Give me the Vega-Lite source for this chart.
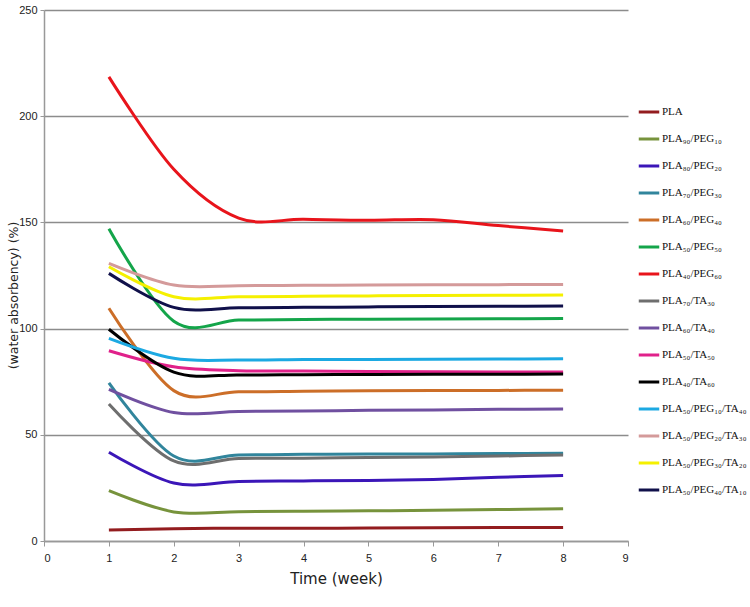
{
  "$schema": "https://vega.github.io/schema/vega-lite/v6.json",
  "width": 584,
  "height": 531,
  "autosize": {"type": "none"},
  "padding": {"left": 44, "top": 10, "right": 122, "bottom": 66},
  "background": "white",
  "config": {"view": {"stroke": null}},
  "data": {
    "values": [
      {"s": "PLA", "w": 1, "v": 5.2}, {"s": "PLA", "w": 2, "v": 5.8}, {"s": "PLA", "w": 3, "v": 6.0}, {"s": "PLA", "w": 4, "v": 6.0}, {"s": "PLA", "w": 5, "v": 6.1}, {"s": "PLA", "w": 6, "v": 6.2}, {"s": "PLA", "w": 7, "v": 6.3}, {"s": "PLA", "w": 8, "v": 6.4},
      {"s": "PLA₉₀/PEG₁₀", "w": 1, "v": 23.7}, {"s": "PLA₉₀/PEG₁₀", "w": 2, "v": 13.7}, {"s": "PLA₉₀/PEG₁₀", "w": 3, "v": 13.8}, {"s": "PLA₉₀/PEG₁₀", "w": 4, "v": 14.0}, {"s": "PLA₉₀/PEG₁₀", "w": 5, "v": 14.2}, {"s": "PLA₉₀/PEG₁₀", "w": 6, "v": 14.5}, {"s": "PLA₉₀/PEG₁₀", "w": 7, "v": 14.8}, {"s": "PLA₉₀/PEG₁₀", "w": 8, "v": 15.2},
      {"s": "PLA₈₀/PEG₂₀", "w": 1, "v": 41.8}, {"s": "PLA₈₀/PEG₂₀", "w": 2, "v": 27.3}, {"s": "PLA₈₀/PEG₂₀", "w": 3, "v": 28.0}, {"s": "PLA₈₀/PEG₂₀", "w": 4, "v": 28.3}, {"s": "PLA₈₀/PEG₂₀", "w": 5, "v": 28.5}, {"s": "PLA₈₀/PEG₂₀", "w": 6, "v": 29.0}, {"s": "PLA₈₀/PEG₂₀", "w": 7, "v": 30.0}, {"s": "PLA₈₀/PEG₂₀", "w": 8, "v": 30.8},
      {"s": "PLA₇₀/PEG₃₀", "w": 1, "v": 74.5}, {"s": "PLA₇₀/PEG₃₀", "w": 2, "v": 40.0}, {"s": "PLA₇₀/PEG₃₀", "w": 3, "v": 40.5}, {"s": "PLA₇₀/PEG₃₀", "w": 4, "v": 40.8}, {"s": "PLA₇₀/PEG₃₀", "w": 5, "v": 41.0}, {"s": "PLA₇₀/PEG₃₀", "w": 6, "v": 41.0}, {"s": "PLA₇₀/PEG₃₀", "w": 7, "v": 41.2}, {"s": "PLA₇₀/PEG₃₀", "w": 8, "v": 41.3},
      {"s": "PLA₆₀/PEG₄₀", "w": 1, "v": 109.6}, {"s": "PLA₆₀/PEG₄₀", "w": 2, "v": 70.8}, {"s": "PLA₆₀/PEG₄₀", "w": 3, "v": 70.3}, {"s": "PLA₆₀/PEG₄₀", "w": 4, "v": 70.5}, {"s": "PLA₆₀/PEG₄₀", "w": 5, "v": 70.7}, {"s": "PLA₆₀/PEG₄₀", "w": 6, "v": 70.8}, {"s": "PLA₆₀/PEG₄₀", "w": 7, "v": 70.9}, {"s": "PLA₆₀/PEG₄₀", "w": 8, "v": 71.0},
      {"s": "PLA₅₀/PEG₅₀", "w": 1, "v": 147.0}, {"s": "PLA₅₀/PEG₅₀", "w": 2, "v": 103.5}, {"s": "PLA₅₀/PEG₅₀", "w": 3, "v": 104.0}, {"s": "PLA₅₀/PEG₅₀", "w": 4, "v": 104.3}, {"s": "PLA₅₀/PEG₅₀", "w": 5, "v": 104.4}, {"s": "PLA₅₀/PEG₅₀", "w": 6, "v": 104.5}, {"s": "PLA₅₀/PEG₅₀", "w": 7, "v": 104.6}, {"s": "PLA₅₀/PEG₅₀", "w": 8, "v": 104.7},
      {"s": "PLA₄₀/PEG₆₀", "w": 1, "v": 218.5}, {"s": "PLA₄₀/PEG₆₀", "w": 2, "v": 175.0}, {"s": "PLA₄₀/PEG₆₀", "w": 3, "v": 152.0}, {"s": "PLA₄₀/PEG₆₀", "w": 4, "v": 151.5}, {"s": "PLA₄₀/PEG₆₀", "w": 5, "v": 151.0}, {"s": "PLA₄₀/PEG₆₀", "w": 6, "v": 151.3}, {"s": "PLA₄₀/PEG₆₀", "w": 7, "v": 148.5}, {"s": "PLA₄₀/PEG₆₀", "w": 8, "v": 146.0},
      {"s": "PLA₇₀/TA₃₀", "w": 1, "v": 64.5}, {"s": "PLA₇₀/TA₃₀", "w": 2, "v": 37.7}, {"s": "PLA₇₀/TA₃₀", "w": 3, "v": 38.8}, {"s": "PLA₇₀/TA₃₀", "w": 4, "v": 39.0}, {"s": "PLA₇₀/TA₃₀", "w": 5, "v": 39.3}, {"s": "PLA₇₀/TA₃₀", "w": 6, "v": 39.6}, {"s": "PLA₇₀/TA₃₀", "w": 7, "v": 40.0}, {"s": "PLA₇₀/TA₃₀", "w": 8, "v": 40.5},
      {"s": "PLA₆₀/TA₄₀", "w": 1, "v": 71.4}, {"s": "PLA₆₀/TA₄₀", "w": 2, "v": 60.5}, {"s": "PLA₆₀/TA₄₀", "w": 3, "v": 61.0}, {"s": "PLA₆₀/TA₄₀", "w": 4, "v": 61.2}, {"s": "PLA₆₀/TA₄₀", "w": 5, "v": 61.5}, {"s": "PLA₆₀/TA₄₀", "w": 6, "v": 61.7}, {"s": "PLA₆₀/TA₄₀", "w": 7, "v": 62.0}, {"s": "PLA₆₀/TA₄₀", "w": 8, "v": 62.1},
      {"s": "PLA₅₀/TA₅₀", "w": 1, "v": 89.6}, {"s": "PLA₅₀/TA₅₀", "w": 2, "v": 82.0}, {"s": "PLA₅₀/TA₅₀", "w": 3, "v": 80.2}, {"s": "PLA₅₀/TA₅₀", "w": 4, "v": 80.0}, {"s": "PLA₅₀/TA₅₀", "w": 5, "v": 79.8}, {"s": "PLA₅₀/TA₅₀", "w": 6, "v": 79.7}, {"s": "PLA₅₀/TA₅₀", "w": 7, "v": 79.6}, {"s": "PLA₅₀/TA₅₀", "w": 8, "v": 79.6},
      {"s": "PLA₄₀/TA₆₀", "w": 1, "v": 99.7}, {"s": "PLA₄₀/TA₆₀", "w": 2, "v": 79.5}, {"s": "PLA₄₀/TA₆₀", "w": 3, "v": 78.2}, {"s": "PLA₄₀/TA₆₀", "w": 4, "v": 78.3}, {"s": "PLA₄₀/TA₆₀", "w": 5, "v": 78.4}, {"s": "PLA₄₀/TA₆₀", "w": 6, "v": 78.5}, {"s": "PLA₄₀/TA₆₀", "w": 7, "v": 78.5}, {"s": "PLA₄₀/TA₆₀", "w": 8, "v": 78.6},
      {"s": "PLA₅₀/PEG₁₀/TA₄₀", "w": 1, "v": 95.4}, {"s": "PLA₅₀/PEG₁₀/TA₄₀", "w": 2, "v": 86.0}, {"s": "PLA₅₀/PEG₁₀/TA₄₀", "w": 3, "v": 85.2}, {"s": "PLA₅₀/PEG₁₀/TA₄₀", "w": 4, "v": 85.4}, {"s": "PLA₅₀/PEG₁₀/TA₄₀", "w": 5, "v": 85.5}, {"s": "PLA₅₀/PEG₁₀/TA₄₀", "w": 6, "v": 85.6}, {"s": "PLA₅₀/PEG₁₀/TA₄₀", "w": 7, "v": 85.7}, {"s": "PLA₅₀/PEG₁₀/TA₄₀", "w": 8, "v": 85.8},
      {"s": "PLA₅₀/PEG₂₀/TA₃₀", "w": 1, "v": 130.7}, {"s": "PLA₅₀/PEG₂₀/TA₃₀", "w": 2, "v": 120.5}, {"s": "PLA₅₀/PEG₂₀/TA₃₀", "w": 3, "v": 120.2}, {"s": "PLA₅₀/PEG₂₀/TA₃₀", "w": 4, "v": 120.4}, {"s": "PLA₅₀/PEG₂₀/TA₃₀", "w": 5, "v": 120.5}, {"s": "PLA₅₀/PEG₂₀/TA₃₀", "w": 6, "v": 120.6}, {"s": "PLA₅₀/PEG₂₀/TA₃₀", "w": 7, "v": 120.7}, {"s": "PLA₅₀/PEG₂₀/TA₃₀", "w": 8, "v": 120.8},
      {"s": "PLA₅₀/PEG₃₀/TA₂₀", "w": 1, "v": 129.1}, {"s": "PLA₅₀/PEG₃₀/TA₂₀", "w": 2, "v": 115.0}, {"s": "PLA₅₀/PEG₃₀/TA₂₀", "w": 3, "v": 115.0}, {"s": "PLA₅₀/PEG₃₀/TA₂₀", "w": 4, "v": 115.2}, {"s": "PLA₅₀/PEG₃₀/TA₂₀", "w": 5, "v": 115.4}, {"s": "PLA₅₀/PEG₃₀/TA₂₀", "w": 6, "v": 115.6}, {"s": "PLA₅₀/PEG₃₀/TA₂₀", "w": 7, "v": 115.7}, {"s": "PLA₅₀/PEG₃₀/TA₂₀", "w": 8, "v": 115.8},
      {"s": "PLA₅₀/PEG₄₀/TA₁₀", "w": 1, "v": 126.0}, {"s": "PLA₅₀/PEG₄₀/TA₁₀", "w": 2, "v": 110.0}, {"s": "PLA₅₀/PEG₄₀/TA₁₀", "w": 3, "v": 109.8}, {"s": "PLA₅₀/PEG₄₀/TA₁₀", "w": 4, "v": 110.0}, {"s": "PLA₅₀/PEG₄₀/TA₁₀", "w": 5, "v": 110.2}, {"s": "PLA₅₀/PEG₄₀/TA₁₀", "w": 6, "v": 110.4}, {"s": "PLA₅₀/PEG₄₀/TA₁₀", "w": 7, "v": 110.5}, {"s": "PLA₅₀/PEG₄₀/TA₁₀", "w": 8, "v": 110.6}
    ]
  },
  "mark": {"type": "line", "interpolate": "cardinal", "tension": 0, "strokeWidth": 3},
  "encoding": {
    "x": {
      "field": "w", "type": "quantitative",
      "scale": {"domain": [0, 9], "nice": false, "zero": false},
      "axis": {
        "title": "Time (week)", "values": [0, 1, 2, 3, 4, 5, 6, 7, 8, 9], "grid": false,
        "domainColor": "#999999", "domainWidth": 1.5, "tickColor": "#999999", "tickSize": 5,
        "labelFont": "Liberation Sans", "labelFontSize": 11, "labelColor": "#222222", "labelPadding": 6,
        "titleFont": "DejaVu Sans", "titleFontSize": 15, "titleFontWeight": "normal", "titleColor": "#222222", "titlePadding": 8
      }
    },
    "y": {
      "field": "v", "type": "quantitative",
      "scale": {"domain": [0, 250], "nice": false},
      "axis": {
        "title": "(water absorbency)  (%)", "values": [0, 50, 100, 150, 200, 250],
        "grid": true, "gridColor": "#8c8c8c", "gridWidth": 1.5,
        "domainColor": "#999999", "domainWidth": 1.5, "tickColor": "#999999", "tickSize": 4,
        "labelFont": "Liberation Sans", "labelFontSize": 11, "labelColor": "#222222", "labelPadding": 3,
        "titleFont": "DejaVu Sans", "titleFontSize": 12.5, "titleFontWeight": "normal", "titleColor": "#222222",
        "titleX": -24, "titleY": 285
      }
    },
    "color": {
      "field": "s", "type": "nominal",
      "sort": ["PLA", "PLA₉₀/PEG₁₀", "PLA₈₀/PEG₂₀", "PLA₇₀/PEG₃₀", "PLA₆₀/PEG₄₀", "PLA₅₀/PEG₅₀", "PLA₄₀/PEG₆₀", "PLA₇₀/TA₃₀", "PLA₆₀/TA₄₀", "PLA₅₀/TA₅₀", "PLA₄₀/TA₆₀", "PLA₅₀/PEG₁₀/TA₄₀", "PLA₅₀/PEG₂₀/TA₃₀", "PLA₅₀/PEG₃₀/TA₂₀", "PLA₅₀/PEG₄₀/TA₁₀"],
      "scale": {
        "domain": ["PLA", "PLA₉₀/PEG₁₀", "PLA₈₀/PEG₂₀", "PLA₇₀/PEG₃₀", "PLA₆₀/PEG₄₀", "PLA₅₀/PEG₅₀", "PLA₄₀/PEG₆₀", "PLA₇₀/TA₃₀", "PLA₆₀/TA₄₀", "PLA₅₀/TA₅₀", "PLA₄₀/TA₆₀", "PLA₅₀/PEG₁₀/TA₄₀", "PLA₅₀/PEG₂₀/TA₃₀", "PLA₅₀/PEG₃₀/TA₂₀", "PLA₅₀/PEG₄₀/TA₁₀"],
        "range": ["#931c1f", "#77933c", "#3b16b8", "#31859c", "#cc6e28", "#14a54a", "#e8141b", "#6e6e6e", "#7050a0", "#e0218a", "#000000", "#1ca9e2", "#d49a9a", "#f5f000", "#10104a"]
      },
      "legend": {
        "title": null, "orient": "none", "legendX": 593, "legendY": 90,
        "symbolType": "stroke", "symbolStrokeWidth": 3, "symbolSize": 420,
        "labelFont": "Liberation Serif", "labelFontSize": 11, "labelColor": "#111111", "labelOffset": 1,
        "rowPadding": 9, "labelLimit": 200
      }
    }
  }
}
